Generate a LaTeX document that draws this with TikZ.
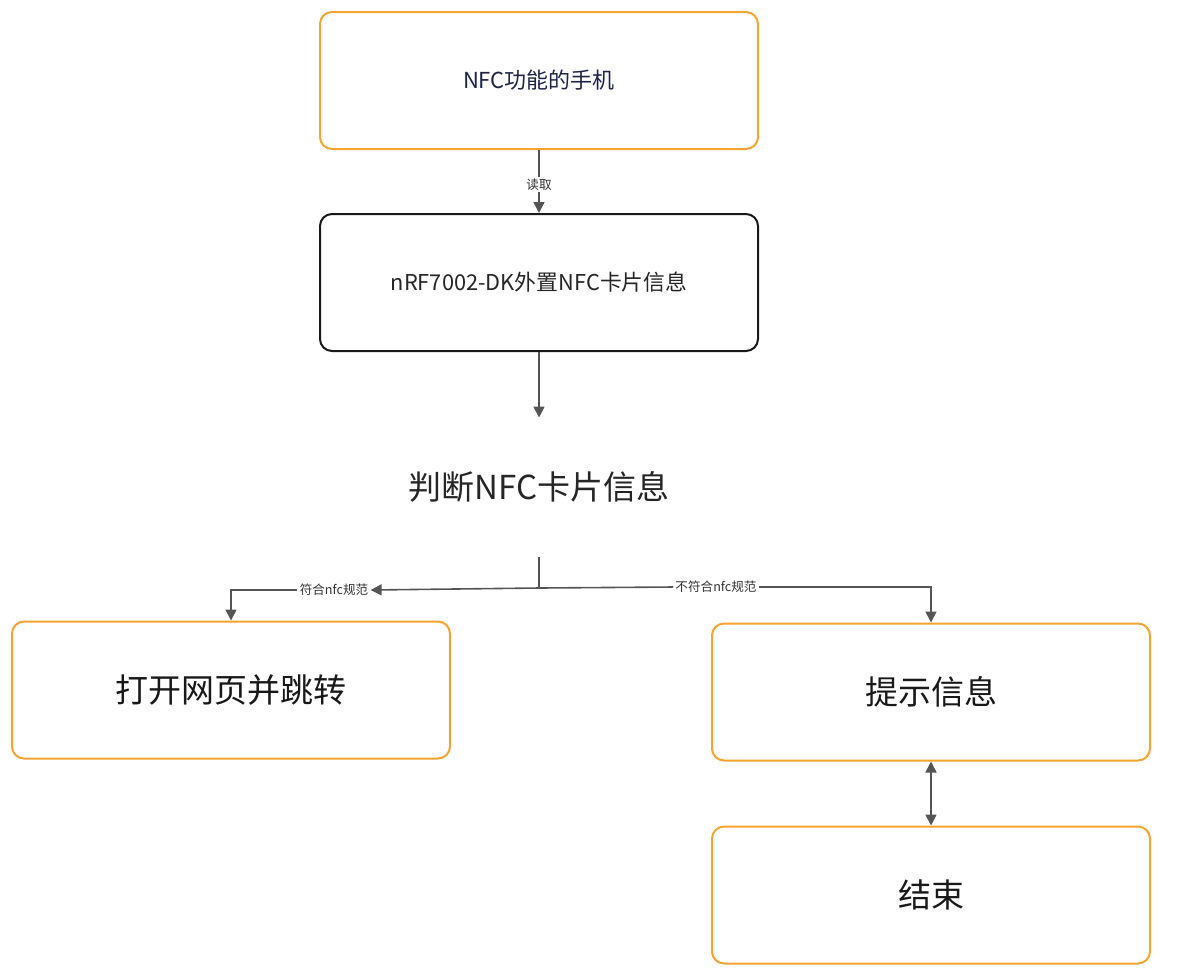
\documentclass[tikz,border=0pt]{standalone}
\usepackage{fontspec}
\newfontfamily\cjk{Noto Sans CJK SC}
\usepackage{tikz}
\usetikzlibrary{arrows.meta}
\definecolor{jingse}{HTML}{F5A431}
\definecolor{xianse}{HTML}{555555}
\definecolor{shenlan}{HTML}{1F2448}

\begin{document}
\begin{tikzpicture}[x=0.5pt,y=-0.5pt,
    kuang/.style={draw=jingse,line width=1pt,rounded corners=6pt,
      minimum width=219pt,minimum height=68.5pt,fill=white},
    jiantou/.style={draw=xianse,line width=0.8pt,-{Triangle[width=5.5pt,length=5.5pt]}},
    biaoqian/.style={font=\cjk\fontsize{6.3}{7}\selectfont,text=black!80,fill=white,inner sep=1pt}]

    % 画布大小
    \useasboundingbox (0,0) rectangle (1177,976);

    % 上面两个方框
    \node[kuang,font=\cjk\fontsize{11}{13}\selectfont,text=shenlan] (shouji) at (539,80.5) {NFC功能的手机};
    \node[kuang,draw=black!90,font=\cjk\fontsize{10.9}{13}\selectfont,text=black!85] (kapian) at (539,282.5) {nRF7002-DK外置NFC卡片信息};

    % 判断节点（无边框）
    \node[kuang,draw=none,font=\cjk\fontsize{16.5}{19}\selectfont,text=black!85] (panduan) at (539,487) {判断NFC卡片信息};

    % 下面三个方框
    \node[kuang,font=\cjk\fontsize{16.5}{19}\selectfont,text=black!90] (tiaozhuan) at (231,690) {打开网页并跳转};
    \node[kuang,font=\cjk\fontsize{16.5}{19}\selectfont,text=black!90] (tishi) at (931,692) {提示信息};
    \node[kuang,font=\cjk\fontsize{16.5}{19}\selectfont,text=black!90] (jieshu) at (931,895) {结束};

    % 分支标签
    \coordinate (fencha) at (539,588);
    \node[biaoqian] (fuhe) at (334,590) {符合nfc规范};
    \node[biaoqian] (bufuhe) at (716,587) {不符合nfc规范};

    % 连线
    \draw[jiantou] (shouji) -- node[biaoqian,pos=0.55] (duqu) {读取} (kapian);
    \draw[jiantou] (kapian) -- (panduan);
    \draw[jiantou,-] (panduan.south) -- (fencha);
    \draw[jiantou] (fencha) -- (fuhe.east);
    \draw[jiantou] (fuhe.west) -| (tiaozhuan.north);
    \draw[jiantou,-] (fencha) -- (bufuhe.west);
    \draw[jiantou] (bufuhe.east) -| (tishi.north);
    \draw[jiantou,{Triangle[width=5.5pt,length=5.5pt]}-{Triangle[width=5.5pt,length=5.5pt]}] (tishi) -- (jieshu);

\end{tikzpicture}
\end{document}
